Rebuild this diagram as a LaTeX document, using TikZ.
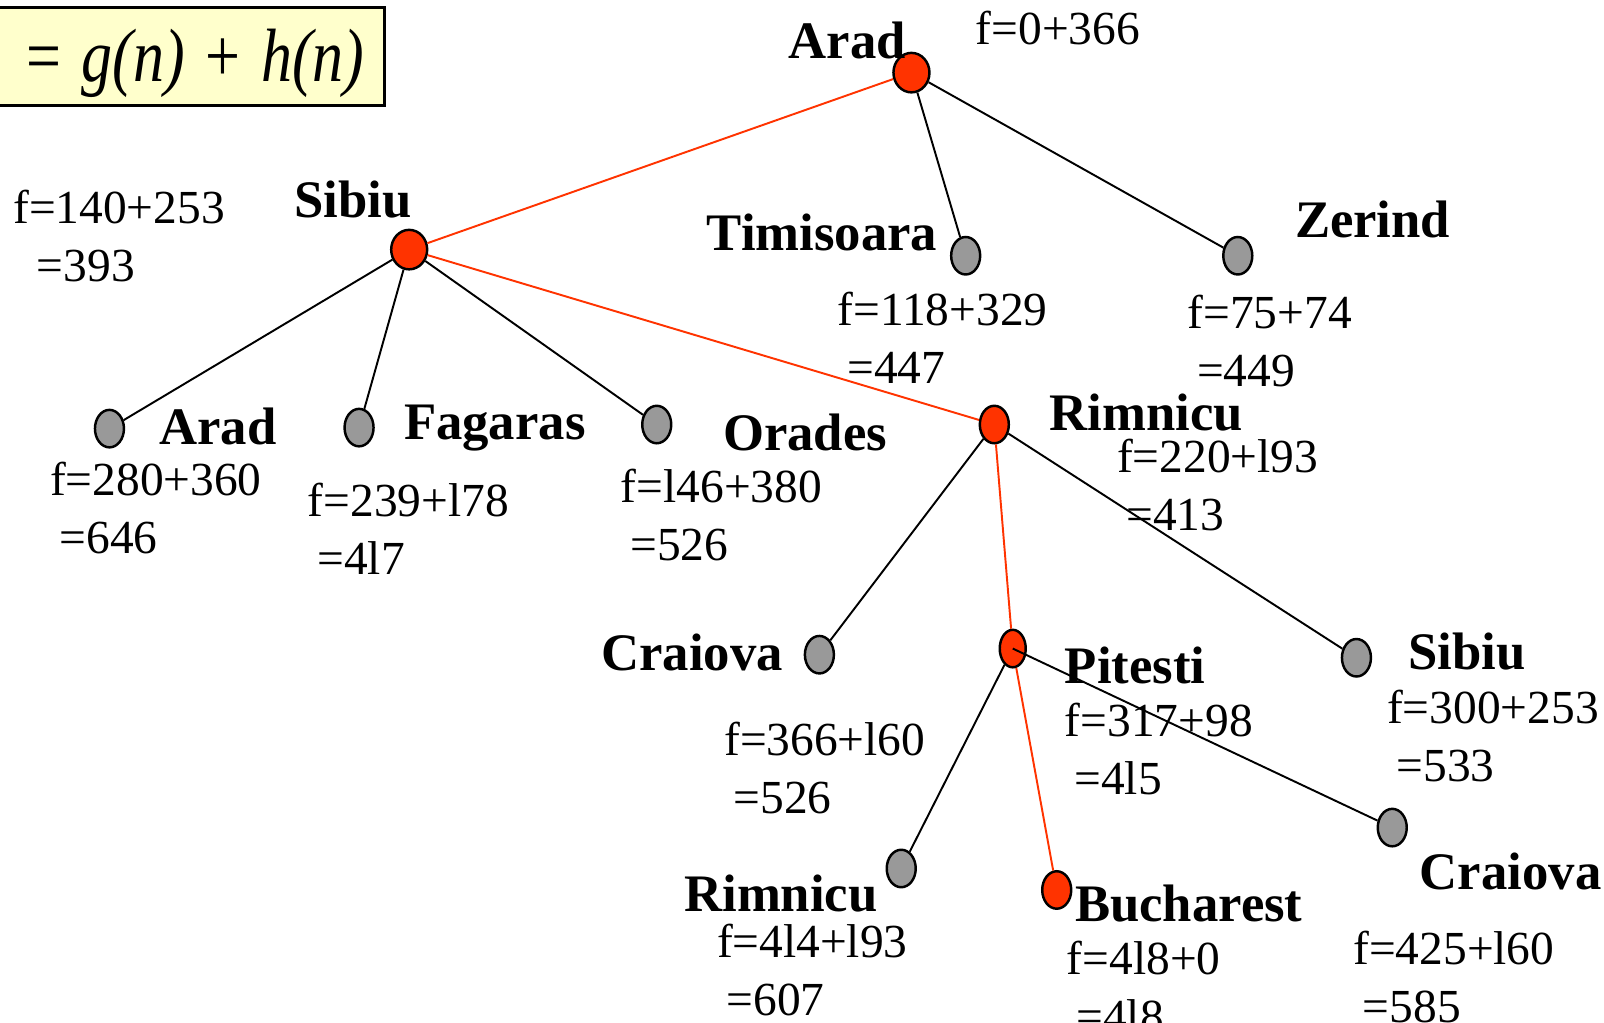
\documentclass[tikz,border=0pt]{standalone}
\usepackage{fontspec}
\setmainfont{Liberation Serif}
\usetikzlibrary{shapes.geometric}
\definecolor{pathred}{HTML}{FF3300}
\definecolor{nodegray}{HTML}{999999}
\definecolor{boxyellow}{HTML}{FFFFCC}

\begin{document}
\begin{tikzpicture}[
  x=0.02046cm, y=-0.02046cm,
  line width=1.1pt,
  city/.style={ellipse, draw=black, line width=1.4pt, fill=nodegray, minimum width=0.58cm, minimum height=0.75cm, inner sep=0pt},
  onpath/.style={city, fill=pathred},
  rootsize/.style={minimum width=0.72cm, minimum height=0.79cm},
  citylabel/.style={anchor=base west, inner sep=0pt, font=\fontsize{30}{36}\selectfont\bfseries},
  fcost/.style={anchor=north west, inner sep=0pt, align=left, font=\fontsize{27}{33}\selectfont},
  formula/.style={draw=black, line width=1.4pt, fill=boxyellow, anchor=base east, text width=7.5cm, align=right, inner xsep=0.4cm, inner ysep=0pt, text height=1.49cm, text depth=0.47cm, font=\fontsize{43}{48}\selectfont},
  branch/.style={draw=black},
  bestbranch/.style={draw=pathred}
]
  \useasboundingbox (0,0) rectangle (1568,1000);

  % evaluation function box
  \node[formula] (fbox) at (377,80) {\scalebox{0.82}[1]{= \textit{g(n)} + \textit{h(n)}}};

  % search tree
  \node[onpath, rootsize] (arad) at (891,71) {};
  \node[onpath, rootsize] (sibiu) at (400,244) {};
  \node[city] (timisoara) at (944,250) {};
  \node[city] (zerind) at (1210,250) {};
  \node[city] (aradb) at (107,419) {};
  \node[city] (fagaras) at (351,418) {};
  \node[city] (orades) at (642,415) {};
  \node[onpath] (rimnicu) at (972,415) {};
  \node[city] (craiova) at (801,640) {};
  \node[onpath, minimum width=0.52cm] (pitesti) at (990,634) {};
  \node[city] (sibiub) at (1326,643) {};
  \node[city] (rimnicub) at (881,849) {};
  \node[onpath] (bucharest) at (1033,870) {};
  \node[city] (craiovab) at (1361,809) {};

  \draw[bestbranch] (arad) -- (sibiu);
  \draw[branch] (arad) -- (timisoara);
  \draw[branch] (arad) -- (zerind);
  \draw[branch] (sibiu) -- (aradb);
  \draw[branch] (sibiu) -- (fagaras);
  \draw[branch] (sibiu) -- (orades);
  \draw[bestbranch] (sibiu) -- (rimnicu);
  \draw[branch] (rimnicu) -- (craiova);
  \draw[bestbranch] (rimnicu) -- (pitesti);
  \draw[branch] (rimnicu) -- (sibiub);
  \draw[branch] (pitesti) -- (rimnicub);
  \draw[bestbranch] (pitesti) -- (bucharest);
  \draw[branch] (pitesti.center) -- (craiovab);

  % city names
  \node[citylabel] (aradname) at (770,57) {Arad};
  \node[citylabel] (sibiuname) at (287,213) {Sibiu};
  \node[citylabel] (timisoaraname) at (690,245) {Timisoara};
  \node[citylabel] (zerindname) at (1265,232) {Zerind};
  \node[citylabel] (aradbname) at (155,435) {Arad};
  \node[citylabel] (fagarasname) at (394,430) {Fagaras};
  \node[citylabel] (oradesname) at (706,440) {Orades};
  \node[citylabel] (rimnicuname) at (1025,421) {Rimnicu};
  \node[citylabel] (craiovaname) at (587,655) {Craiova};
  \node[citylabel] (pitestiname) at (1040,668) {Pitesti};
  \node[citylabel] (sibiubname) at (1376,654) {Sibiu};
  \node[citylabel] (rimnicubname) at (668,891) {Rimnicu};
  \node[citylabel] (bucharestname) at (1050,901) {Bucharest};
  \node[citylabel] (craiovabname) at (1387,870) {Craiova};

  % f = g + h values
  \node[fcost] (aradf) at (953,10) {f=0+366};
  \node[fcost] (sibiuf) at (12,185) {f=140+253\\\hspace*{.5em}=393};
  \node[fcost] (timisoaraf) at (818,285) {f=118+329\\\hspace*{.2em}=447};
  \node[fcost] (zerindf) at (1160,288) {f=75+74\\\hspace*{.2em}=449};
  \node[fcost] (aradbf) at (48,451) {f=280+360\\\hspace*{.2em}=646};
  \node[fcost] (fagarasf) at (300,471) {f=239+l78\\\hspace*{.2em}=4l7};
  \node[fcost] (oradesf) at (606,458) {f=l46+380\\\hspace*{.2em}=526};
  \node[fcost] (rimnicuf) at (1091,428) {f=220+l93\\\hspace*{.2em}=413};
  \node[fcost] (craiovaf) at (707,705) {f=366+l60\\\hspace*{.2em}=526};
  \node[fcost] (pitestif) at (1040,686) {f=317+98\\\hspace*{.2em}=4l5};
  \node[fcost] (sibiubf) at (1355,674) {f=300+253\\\hspace*{.2em}=533};
  \node[fcost] (rimnicubf) at (700,902) {f=4l4+l93\\\hspace*{.2em}=607};
  \node[fcost] (bucharestf) at (1042,919) {f=4l8+0\\\hspace*{.2em}=4l8};
  \node[fcost] (craiovabf) at (1322,909) {f=425+l60\\\hspace*{.2em}=585};
\end{tikzpicture}
\end{document}
